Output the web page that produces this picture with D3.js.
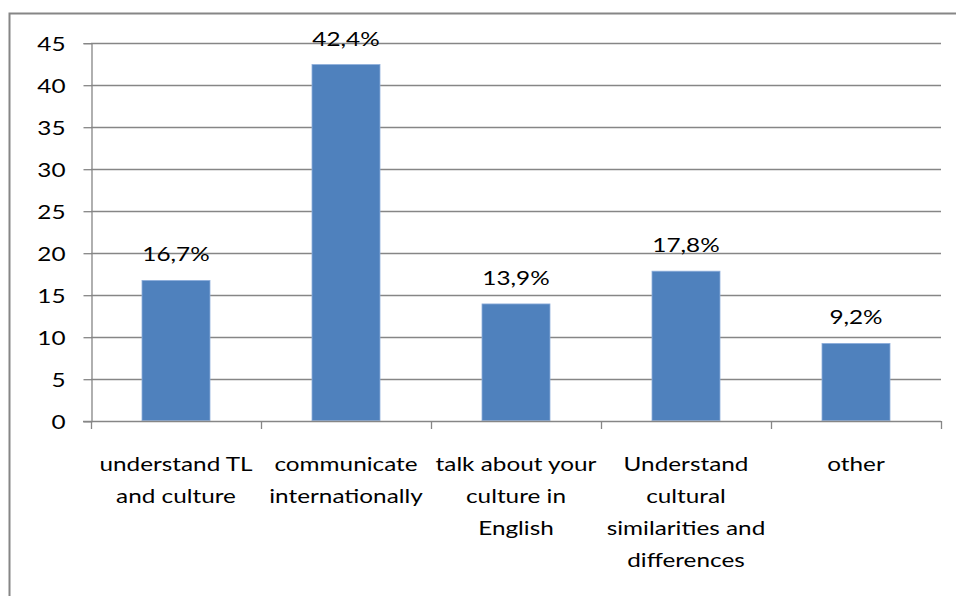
<!DOCTYPE html>
<html>
<head>
<meta charset="utf-8">
<script src="https://cdn.jsdelivr.net/npm/d3@7"></script>
<style>
  html, body { margin: 0; padding: 0; background: #fff; }
  svg { display: block; }
  text { font-family: Lato, "Open Sans", sans-serif; fill: #000; }
</style>
</head>
<body>
<svg id="chart" width="956" height="596"></svg>
<script>
// Category labels, split into the lines they are drawn on
const categories = [
  ["understand TL", "and culture"],
  ["communicate", "internationally"],
  ["talk about your", "culture in", "English"],
  ["Understand", "cultural", "similarities and", "differences"],
  ["other"]
];
const values = [16.7, 42.4, 13.9, 17.8, 9.2];
const valueLabels = ["16,7%", "42,4%", "13,9%", "17,8%", "9,2%"];
const yTicks = [0, 5, 10, 15, 20, 25, 30, 35, 40, 45];

const svg = d3.select("#chart");
const W = 956, H = 596;
const plot = { left: 91, right: 941, top: 42.7, bottom: 420.7 };
const fontSize = 19;
const stretch = 1.28;          // horizontal widening of all text glyphs
const gridColor = "#868686";

// Outer chart frame (runs off the right and bottom edges)
svg.append("rect")
  .attr("x", 9.5).attr("y", 13.5)
  .attr("width", W).attr("height", H)
  .attr("fill", "none")
  .attr("stroke", "#868686")
  .attr("stroke-width", 2);

const keys = d3.range(categories.length);
const x = d3.scaleBand()
  .domain(keys)
  .range([plot.left, plot.right])
  .paddingInner(0.6)
  .paddingOuter(0.3);

const y = d3.scaleLinear()
  .domain([0, 45])
  .range([plot.bottom, plot.top]);

// Horizontal gridlines
svg.append("g")
  .selectAll("line")
  .data(yTicks.filter(d => d > 0))
  .join("line")
  .attr("x1", plot.left).attr("x2", plot.right)
  .attr("y1", d => Math.round(y(d)) + 0.5)
  .attr("y2", d => Math.round(y(d)) + 0.5)
  .attr("stroke", gridColor)
  .attr("stroke-width", 1.3);

// Y axis
const yAxis = svg.append("g")
  .attr("transform", `translate(${plot.left + 0.5},0.5)`)
  .call(d3.axisLeft(y).tickValues(yTicks).tickSize(8).tickPadding(18).tickFormat(d3.format("d")));
yAxis.select(".domain").attr("stroke", gridColor).attr("stroke-width", 1.3);
yAxis.selectAll(".tick line").attr("stroke", gridColor).attr("stroke-width", 1.3);
yAxis.selectAll(".tick text")
  .attr("font-size", fontSize)
  .attr("font-family", "Lato, sans-serif")
  .attr("fill", "#000")
  .attr("x", 0)
  .attr("dy", "0.36em")
  .attr("transform", `translate(-26,0) scale(${stretch},1)`);

// Bars
svg.append("g")
  .selectAll("rect")
  .data(values)
  .join("rect")
  .attr("x", (d, i) => x(i))
  .attr("y", d => y(d))
  .attr("width", x.bandwidth())
  .attr("height", d => y(0) - y(d))
  .attr("fill", "#4F81BD")
  .attr("stroke", "#8eaedb")
  .attr("stroke-width", 0.8);

// Value labels above bars
svg.append("g")
  .selectAll("text")
  .data(values)
  .join("text")
  .attr("transform", (d, i) =>
    `translate(${x(i) + x.bandwidth() / 2},${y(d) - 19}) scale(${stretch},1)`)
  .attr("text-anchor", "middle")
  .attr("font-size", fontSize)
  .text((d, i) => valueLabels[i]);

// X axis line with category boundary ticks
const step = x.step();
const boundaries = d3.range(categories.length + 1).map(i => plot.left + i * step);
const xAxis = svg.append("g");
xAxis.append("line")
  .attr("x1", plot.left - 8).attr("x2", plot.right)
  .attr("y1", Math.round(y(0)) + 0.5).attr("y2", Math.round(y(0)) + 0.5)
  .attr("stroke", gridColor).attr("stroke-width", 1.3);
xAxis.selectAll("line.tick")
  .data(boundaries)
  .join("line")
  .attr("class", "tick")
  .attr("x1", d => Math.round(d) + 0.5).attr("x2", d => Math.round(d) + 0.5)
  .attr("y1", Math.round(y(0))).attr("y2", Math.round(y(0)) + 8)
  .attr("stroke", gridColor).attr("stroke-width", 1.3);

// Category labels
const lineGap = 32;
svg.append("g")
  .selectAll("text")
  .data(categories)
  .join("text")
  .attr("text-anchor", "middle")
  .attr("font-size", fontSize)
  .attr("transform", (lines, i) =>
    `translate(${x(i) + x.bandwidth() / 2},0) scale(${stretch},1)`)
  .each(function(lines) {
    d3.select(this).selectAll("tspan")
      .data(lines)
      .join("tspan")
      .attr("x", 0)
      .attr("y", (l, j) => 471 + j * lineGap)
      .text(l => l);
  });
</script>
</body>
</html>
